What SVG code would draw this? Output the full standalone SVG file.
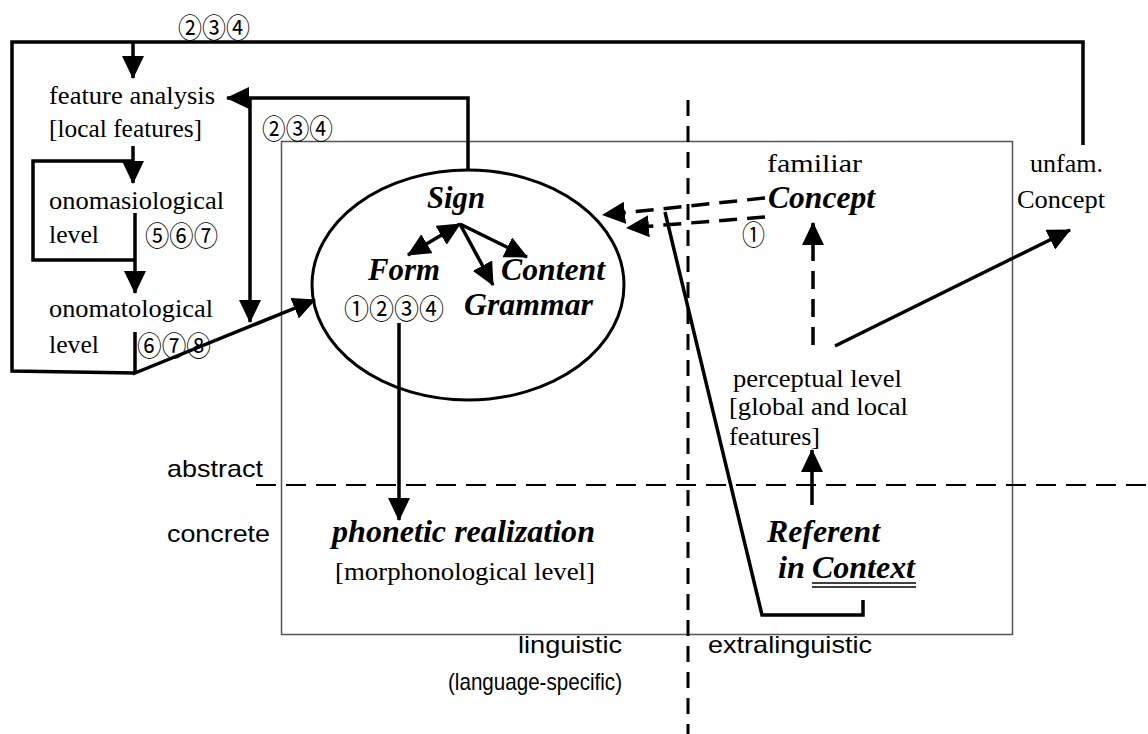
<svg xmlns="http://www.w3.org/2000/svg" width="1148" height="734" viewBox="0 0 1148 734">
<style>
.serif{font-family:"Liberation Serif","Times New Roman",serif;font-size:26px;fill:#000}
.bi{font-family:"Liberation Serif","Times New Roman",serif;font-size:31px;font-weight:bold;font-style:italic;fill:#000}
.sans{font-family:"Liberation Sans",Arial,sans-serif;font-size:24px;fill:#000}
.circ{font-family:"Noto Sans CJK JP","DejaVu Sans",sans-serif;font-size:27px;fill:#000;dominant-baseline:central}
.thick{fill:none;stroke:#000;stroke-width:3.5}
.dash{fill:none;stroke:#000;stroke-width:3.5;stroke-dasharray:18 10}
</style>
<defs>
<marker id="ah" markerUnits="userSpaceOnUse" viewBox="0 0 23 22" markerWidth="23" markerHeight="22" refX="22" refY="11" orient="auto-start-reverse">
<path d="M0,0 L23,11 L0,22 z" fill="#000"/>
</marker>
</defs>
<rect width="1148" height="734" fill="#fff"/>

<g id="frame">
<rect x="281.5" y="141.5" width="731" height="493" fill="none" stroke="#555" stroke-width="1.5"/>
<line x1="256" y1="485" x2="1148" y2="485" stroke="#000" stroke-width="1.8" stroke-dasharray="20 10"/>
<line x1="688" y1="100" x2="688" y2="734" stroke="#000" stroke-width="3" stroke-dasharray="16 10"/>
</g>

<g id="connectors">
<polyline class="thick" points="133,42 12,42 12,371 135,373"/>
<polyline class="thick" points="133,42 1083,42 1083,145"/>
<line class="thick" x1="133" y1="42" x2="133" y2="78" marker-end="url(#ah)"/>
<polyline class="thick" points="468,170 468,98 227,98" marker-end="url(#ah)"/>
<line class="thick" x1="250" y1="98" x2="250" y2="322" marker-end="url(#ah)"/>
<line class="thick" x1="133" y1="146" x2="133" y2="183" marker-end="url(#ah)"/>
<polyline class="thick" points="133,161 33,161 33,260 135,260"/>
<line class="thick" x1="135" y1="213" x2="135" y2="293" marker-end="url(#ah)"/>
<polyline class="thick" points="135,332 135,373 315,300" marker-end="url(#ah)"/>
<line class="thick" x1="460" y1="224" x2="408" y2="255" marker-start="url(#ah)" marker-end="url(#ah)"/>
<line class="thick" x1="460" y1="224" x2="527" y2="257" marker-end="url(#ah)"/>
<line class="thick" x1="460" y1="224" x2="493" y2="285" marker-end="url(#ah)"/>
<line class="thick" x1="399" y1="323" x2="399" y2="520" marker-end="url(#ah)"/>
<line class="dash" x1="765" y1="198" x2="603" y2="215" marker-end="url(#ah)"/>
<line class="dash" x1="765" y1="217" x2="627" y2="228" marker-end="url(#ah)"/>
<line class="dash" x1="813" y1="345" x2="813" y2="223" marker-end="url(#ah)"/>
<line class="thick" x1="835" y1="346" x2="1070" y2="230" marker-end="url(#ah)"/>
<line class="thick" x1="812" y1="505" x2="812" y2="450" marker-end="url(#ah)"/>
<polyline class="thick" points="665,212 762,615 863,615 863,600"/>
</g>

<g id="feature-analysis">
<text class="serif" x="49" y="104" textLength="166" lengthAdjust="spacingAndGlyphs">feature analysis</text>
<text class="serif" x="49" y="137" textLength="153" lengthAdjust="spacingAndGlyphs">[local features]</text>
</g>
<g id="onomasiological">
<text class="serif" x="49" y="209" textLength="175" lengthAdjust="spacingAndGlyphs">onomasiological</text>
<text class="serif" x="49" y="243" textLength="50" lengthAdjust="spacingAndGlyphs">level</text>
<text class="circ" x="145" y="234" textLength="73" lengthAdjust="spacingAndGlyphs">⑤⑥⑦</text>
</g>
<g id="onomatological">
<text class="serif" x="49" y="317" textLength="164" lengthAdjust="spacingAndGlyphs">onomatological</text>
<text class="serif" x="49" y="353" textLength="50" lengthAdjust="spacingAndGlyphs">level</text>
<text class="circ" x="137" y="344" textLength="74" lengthAdjust="spacingAndGlyphs">⑥⑦⑧</text>
</g>
<g id="labels-top">
<text class="circ" x="178" y="26" textLength="72" lengthAdjust="spacingAndGlyphs">②③④</text>
<text class="circ" x="262" y="127" textLength="71" lengthAdjust="spacingAndGlyphs">②③④</text>
</g>
<g id="sign">
<ellipse cx="468" cy="285" rx="156" ry="115" fill="none" stroke="#000" stroke-width="3"/>
<text class="bi" x="427" y="208" textLength="58" lengthAdjust="spacingAndGlyphs">Sign</text>
<text class="bi" x="368" y="280" textLength="72" lengthAdjust="spacingAndGlyphs">Form</text>
<text class="bi" x="501" y="280" textLength="104" lengthAdjust="spacingAndGlyphs">Content</text>
<text class="bi" x="464" y="315" textLength="129" lengthAdjust="spacingAndGlyphs">Grammar</text>
<text class="circ" x="344" y="307" textLength="100" lengthAdjust="spacingAndGlyphs">①②③④</text>
</g>
<g id="familiar-concept">
<text class="serif" x="767" y="172" textLength="95" lengthAdjust="spacingAndGlyphs">familiar</text>
<text class="bi" x="768" y="208" textLength="107" lengthAdjust="spacingAndGlyphs">Concept</text>
<text class="circ" x="742" y="233" textLength="23" lengthAdjust="spacingAndGlyphs">①</text>
</g>
<g id="unfam-concept">
<text class="serif" x="1030" y="172" textLength="73" lengthAdjust="spacingAndGlyphs">unfam.</text>
<text class="serif" x="1017" y="208" textLength="88" lengthAdjust="spacingAndGlyphs">Concept</text>
</g>
<g id="perceptual">
<text class="serif" x="733" y="387" textLength="169" lengthAdjust="spacingAndGlyphs">perceptual level</text>
<text class="serif" x="729" y="415" textLength="179" lengthAdjust="spacingAndGlyphs">[global and local</text>
<text class="serif" x="729" y="445" textLength="91" lengthAdjust="spacingAndGlyphs">features]</text>
</g>
<g id="referent">
<text class="bi" x="767" y="542" textLength="113" lengthAdjust="spacingAndGlyphs">Referent</text>
<text class="bi" x="778" y="578" textLength="27" lengthAdjust="spacingAndGlyphs">in</text>
<text class="bi" x="812" y="578" textLength="103" lengthAdjust="spacingAndGlyphs">Context</text>
<line x1="812" y1="583" x2="916" y2="583" stroke="#000" stroke-width="1.5"/>
<line x1="812" y1="587" x2="916" y2="587" stroke="#000" stroke-width="1.5"/>
</g>
<g id="phonetic">
<text class="bi" x="332" y="542" textLength="263" lengthAdjust="spacingAndGlyphs">phonetic realization</text>
<text class="serif" x="335" y="580" textLength="260" lengthAdjust="spacingAndGlyphs">[morphonological level]</text>
</g>
<g id="axis-labels">
<text class="sans" x="167" y="477" textLength="96" lengthAdjust="spacingAndGlyphs">abstract</text>
<text class="sans" x="167" y="542" textLength="103" lengthAdjust="spacingAndGlyphs">concrete</text>
<text class="sans" x="518" y="653" textLength="104" lengthAdjust="spacingAndGlyphs">linguistic</text>
<text class="sans" x="448" y="690" font-size="18" textLength="174" lengthAdjust="spacingAndGlyphs">(language-specific)</text>
<text class="sans" x="708" y="653" textLength="164" lengthAdjust="spacingAndGlyphs">extralinguistic</text>
</g>
</svg>
